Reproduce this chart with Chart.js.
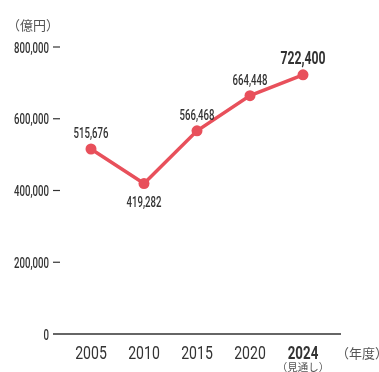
<!DOCTYPE html>
<html><head><meta charset="utf-8">
<script src="https://cdn.jsdelivr.net/npm/chart.js@4"></script>
<style>html,body{margin:0;padding:0;background:#fff}#w{width:379px;height:372px}</style>
</head><body><div id="w"><canvas id="c"></canvas></div>
<script>
const years = ['2005','2010','2015','2020','2024'];
const values = [515676, 419282, 566468, 664448, 722400];
const yTicks = [0, 200000, 400000, 600000, 800000];
const unitLabel = '（億円）';
const yearUnit = '（年度）';
const forecastNote = '（見通し）';

const FONT = 'Roboto,"Liberation Sans",sans-serif';
const CJK = '"Noto Sans CJK JP",sans-serif';
const RED = '#e8505b';
const TXT = '#333333';
const fmt = v => v.toLocaleString('en-US');

function condText(ctx, text, x, y, font, sx, align) {
  ctx.save();
  ctx.translate(x, y);
  ctx.scale(sx, 1);
  ctx.font = font;
  ctx.textAlign = align;
  ctx.textBaseline = 'alphabetic';
  ctx.fillText(text, 0, 0);
  ctx.restore();
}

const extras = {
  id: 'extras',
  afterDraw(chart) {
    const ctx = chart.ctx, x = chart.scales.x, y = chart.scales.y, a = chart.chartArea;
    ctx.save();
    ctx.fillStyle = TXT;
    ctx.strokeStyle = TXT; ctx.lineWidth = 1.2;
    yTicks.forEach(t => {
      const py = y.getPixelForValue(t);
      condText(ctx, fmt(t), a.left - 4, py + 5.5, '500 15.5px ' + FONT, 0.62, 'right');
      if (t === 0) return;
      ctx.beginPath(); ctx.moveTo(a.left, py); ctx.lineTo(a.left + 7, py); ctx.stroke();
    });
    ctx.lineWidth = 1.5;
    const by = y.getPixelForValue(0);
    ctx.beginPath(); ctx.moveTo(a.left, by); ctx.lineTo(a.right, by); ctx.stroke();
    years.forEach((yr, i) => {
      const last = i === years.length - 1;
      condText(ctx, yr, x.getPixelForValue(i), by + 25, (last ? '700 ' : '400 ') + '18px ' + FONT, last ? 0.74 : 0.78, 'center');
    });
    const meta = chart.getDatasetMeta(0);
    meta.data.forEach((p, i) => {
      const last = i === values.length - 1;
      const below = i > 0 && i < values.length - 1 && values[i] < values[i-1] && values[i] < values[i+1];
      if (last) condText(ctx, fmt(values[i]), p.x, p.y - 10.5, '700 18px ' + FONT, 0.68, 'center');
      else condText(ctx, fmt(values[i]), p.x, below ? p.y + 23 : p.y - 11, '500 15.5px ' + FONT, 0.62, 'center');
    });
    ctx.fillStyle = '#555';
    ctx.font = '13px ' + CJK;
    ctx.textAlign = 'left'; ctx.textBaseline = 'middle';
    ctx.fillText(unitLabel, 7, 25);
    ctx.fillText(yearUnit, 336, 353);
    ctx.font = '10.5px ' + CJK;
    ctx.textAlign = 'center';
    ctx.fillText(forecastNote, x.getPixelForValue(4), 367);
    ctx.restore();
  }
};

new Chart(document.getElementById('c'), {
  type: 'line',
  data: { datasets: [{
    data: values.map((v, i) => ({x: i, y: v})),
    borderColor: RED, backgroundColor: RED, borderWidth: 3.5,
    pointRadius: 5.5, pointHoverRadius: 5.5, pointBackgroundColor: RED, pointBorderWidth: 0,
    tension: 0
  }]},
  options: {
    responsive: true, maintainAspectRatio: false, animation: false,
    devicePixelRatio: 1,
    layout: { padding: { top: 47, right: 38, left: 0, bottom: 0 } },
    plugins: { legend: { display: false }, tooltip: { enabled: false } },
    scales: {
      x: {
        type: 'linear', min: -0.717, max: 4.717,
        afterBuildTicks: s => { s.ticks = years.map((_, i) => ({ value: i })); },
        afterFit: s => { s.height = 38; },
        grid: { display: false, drawTicks: false }, border: { display: false },
        ticks: { display: false, callback: v => years[v] }
      },
      y: {
        min: 0, max: 800000,
        afterBuildTicks: s => { s.ticks = yTicks.map(v => ({ value: v })); },
        afterFit: s => { s.width = 53; },
        grid: { display: false, drawTicks: false }, border: { display: false },
        ticks: { display: false, callback: v => fmt(v) }
      }
    }
  },
  plugins: [extras]
});
</script></body></html>
